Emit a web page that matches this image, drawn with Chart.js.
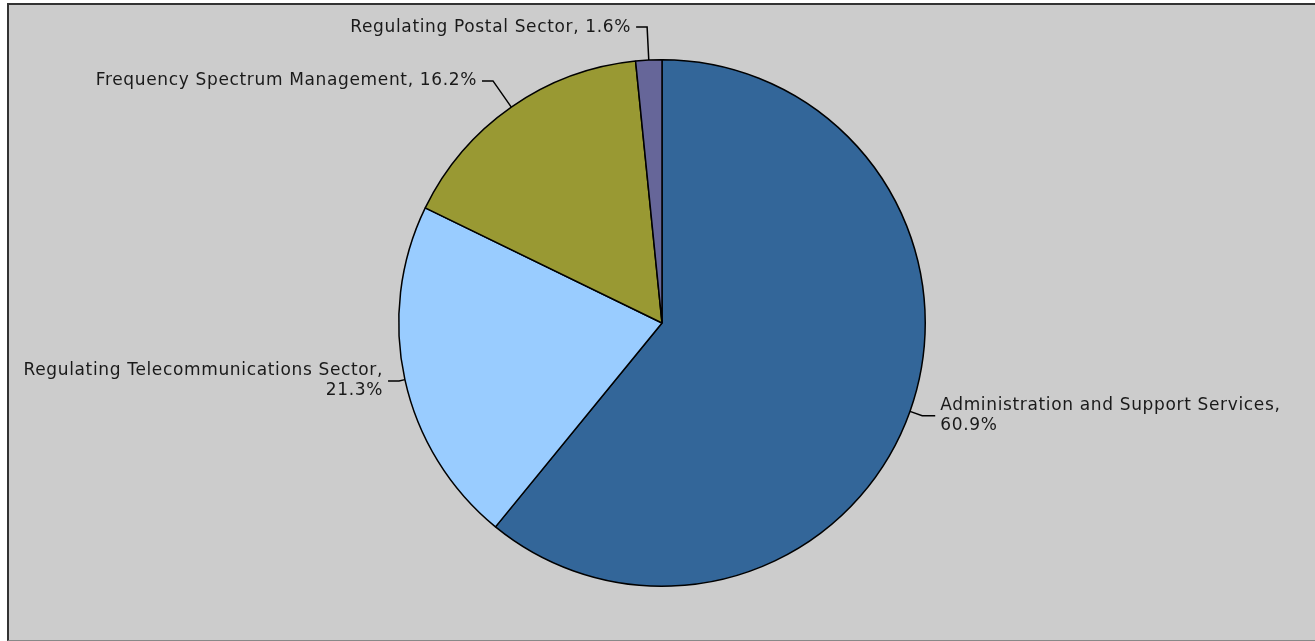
<!DOCTYPE html>
<html lang="en">
<head>
    <meta charset="UTF-8">
    <title>Expenditure by Programme</title>
    <script src="https://cdn.jsdelivr.net/npm/chart.js"></script>
    <style>
        html, body { margin: 0; padding: 0; background: #fff; overflow: hidden; }
        #frame {
            position: absolute;
            left: 7px; top: 3px;
            width: 1306px; height: 635px;
            background: #cccccc;
            border-left: 2px solid #333;
            border-top: 2px solid #333;
            border-bottom: 1px solid #888;
        }
        canvas { display: block; }
    </style>
</head>
<body>
    <div id="frame"><canvas id="pieChart" width="1306" height="635"></canvas></div>
    <script>
        // Data
        const categories = [
            'Administration and Support Services',
            'Regulating Telecommunications Sector',
            'Frequency Spectrum Management',
            'Regulating Postal Sector'
        ];
        const shares = [60.9, 21.3, 16.2, 1.6];
        const colours = ['#336699', '#99ccff', '#999933', '#666699'];

        // how far the leader line goes out from the rim before turning
        const leaderOut = [13, 6, 32, 33];
        const labelFont = '17px "DejaVu Sans", Verdana, sans-serif';

        // Draws the labels with leader lines
        const pieLabels = {
            id: 'pieLabels',
            afterDraw(chart) {
                const ctx = chart.ctx;
                const arcs = chart.getDatasetMeta(0).data;
                ctx.save();
                ctx.font = labelFont;
                ctx.letterSpacing = '0.65px';
                ctx.strokeStyle = '#000';
                ctx.fillStyle = '#1a1a1a';
                ctx.lineWidth = 1.5;
                ctx.textBaseline = 'middle';
                arcs.forEach((arc, i) => {
                    const mid = (arc.startAngle + arc.endAngle) / 2;
                    const r = arc.outerRadius;
                    const ex = arc.x + Math.cos(mid) * r;
                    const ey = arc.y + Math.sin(mid) * r;
                    const bx = arc.x + Math.cos(mid) * (r + leaderOut[i]);
                    const by = arc.y + Math.sin(mid) * (r + leaderOut[i]);
                    const right = Math.cos(mid) >= 0;
                    const hx = bx + (right ? 13 : -11);
                    ctx.beginPath();
                    ctx.moveTo(ex, ey);
                    ctx.lineTo(bx, by);
                    ctx.lineTo(hx, by);
                    ctx.stroke();

                    const tx = hx + (right ? 5 : -5);
                    const full = categories[i] + ', ' + shares[i].toFixed(1) + '%';
                    let lines = [full];
                    const w = ctx.measureText(full).width;
                    if ((right && tx + w > chart.width) || (!right && tx - w < 0)) {
                        lines = [categories[i] + ',', shares[i].toFixed(1) + '%'];
                    }
                    ctx.textAlign = right ? 'left' : 'right';
                    const lh = 20;
                    const y0 = by - (lines.length - 1) * lh / 2;
                    lines.forEach((t, k) => ctx.fillText(t, tx, y0 + k * lh));
                });
                ctx.restore();
            }
        };

        new Chart(document.getElementById('pieChart'), {
            type: 'pie',
            data: {
                labels: categories,
                datasets: [{
                    data: shares,
                    backgroundColor: colours,
                    borderColor: '#000',
                    borderWidth: 1.5
                }]
            },
            options: {
                responsive: false,
                animation: false,
                devicePixelRatio: 1,
                layout: { padding: { top: 54, bottom: 53, left: 0, right: 0 } },
                plugins: {
                    legend: { display: false },
                    tooltip: { enabled: false }
                }
            },
            plugins: [pieLabels]
        });
    </script>
</body>
</html>
